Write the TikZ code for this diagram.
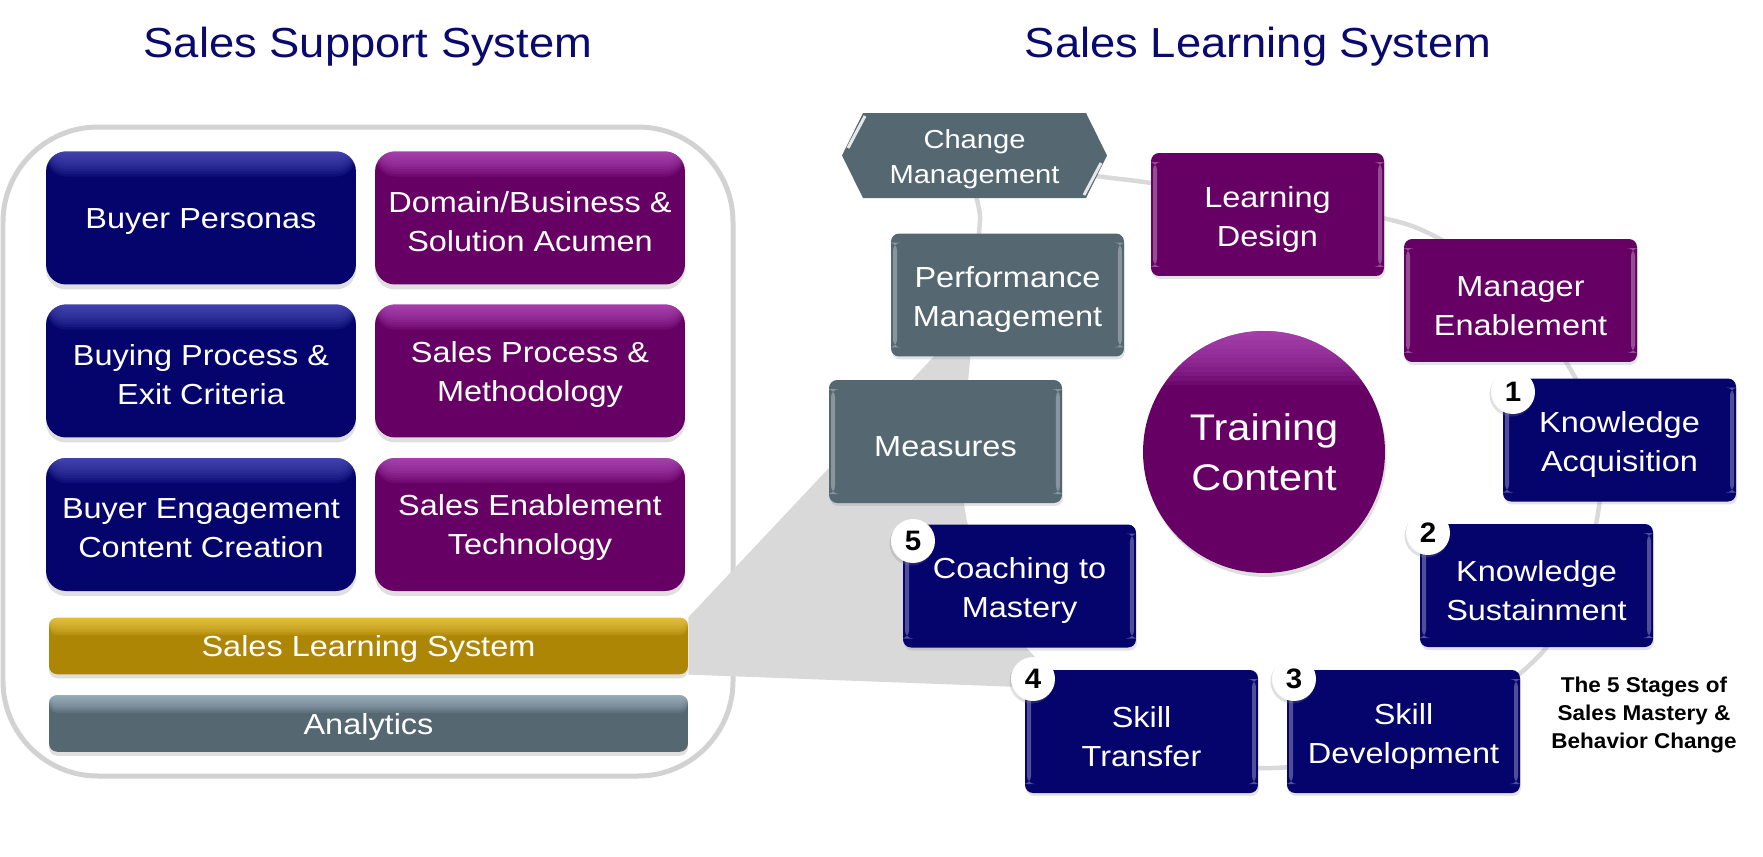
\documentclass[tikz,border=0pt]{standalone}
\usepackage{fontspec}
\setmainfont{Liberation Sans}
\newfontfamily\wfont[FakeStretch=1.12]{Liberation Sans}
\newfontfamily\tfont[FakeStretch=1.08]{Liberation Sans}
\newfontfamily\nfont[FakeStretch=1.05]{Liberation Sans}
\usetikzlibrary{shadows}

\definecolor{navyb}{RGB}{4,4,108}
\definecolor{navyt}{RGB}{90,90,200}
\definecolor{purp}{RGB}{102,0,100}
\definecolor{purpt}{RGB}{190,90,200}
\definecolor{slate}{RGB}{85,104,114}
\definecolor{slatet}{RGB}{175,195,210}
\definecolor{gold}{RGB}{174,134,6}
\definecolor{goldt}{RGB}{245,212,80}
\definecolor{ringgray}{RGB}{217,217,217}
\definecolor{framegray}{RGB}{210,210,210}
\definecolor{titleblue}{RGB}{10,10,110}

\newcommand\lstrut{\rule{0pt}{15.8pt}}
\newcommand\rstrut{\rule{0pt}{17.3pt}}
\newcommand\bstrut{\rule{0pt}{15.4pt}}
\newcommand\cstrut{\rule{0pt}{14.5pt}}

\pgfdeclareradialshading{numball}{\pgfpoint{5bp}{6bp}}{color(0bp)=(white); color(28bp)=(white); color(50bp)=(black!30); color(80bp)=(black!30)}

\tikzset{
  base/.style={align=center, text=white, inner sep=0pt, font=\wfont\fontsize{16.5}{22.2}\selectfont},
  topglow/.style 2 args={path picture={\foreach \gi in {1,...,10}{\fill[#1, opacity=0.12] (path picture bounding box.north west) rectangle ([yshift=-\gi*#2]path picture bounding box.north east);}}},
  lbox/.style={base, rounded corners=0.4cm, minimum width=6.2cm, minimum height=2.66cm,
    drop shadow={shadow xshift=0pt, shadow yshift=-0.1cm, opacity=0.25}},
  lnavy/.style={lbox, fill=navyb, topglow={navyt}{0.05cm}},
  lpurp/.style={lbox, fill=purp, topglow={purpt}{0.05cm}},
  barbox/.style={base, rounded corners=0.16cm, minimum width=12.78cm, minimum height=1.13cm,
    drop shadow={shadow xshift=0pt, shadow yshift=-0.08cm, opacity=0.25}},
  glints/.style={path picture={
    \fill[white, opacity=0.3] ([xshift=0.04cm,yshift=-0.18cm]path picture bounding box.north west) rectangle ([xshift=0.12cm,yshift=0.18cm]path picture bounding box.south west);
    \fill[white, opacity=0.3] ([xshift=-0.12cm,yshift=-0.18cm]path picture bounding box.north east) rectangle ([xshift=-0.04cm,yshift=0.18cm]path picture bounding box.south east);}},
  rbox/.style={base, rounded corners=0.16cm, minimum width=4.66cm, minimum height=2.46cm, glints,
    drop shadow={shadow xshift=0.02cm, shadow yshift=-0.06cm, opacity=0.22}},
  rnavy/.style={rbox, fill=navyb},
  rpurp/.style={rbox, fill=purp},
  rslate/.style={rbox, fill=slate},
  numc/.style={circle, minimum size=0.88cm, inner sep=0pt, shade, shading=numball,
    font=\nfont\bfseries\fontsize{16}{16}\selectfont, text=black,
    drop shadow={shadow xshift=-0.03cm, shadow yshift=-0.05cm, opacity=0.25}},
  title/.style={font=\tfont\fontsize{23.9}{28}\selectfont, text=titleblue, anchor=base, inner sep=0pt},
  ring/.style={ringgray, line width=0.09cm},
}

\begin{document}
\begin{tikzpicture}[x=0.02cm, y=-0.02cm]
\useasboundingbox[fill=white] (0,0) rectangle (1763,856);

% titles
\node[title] (t1) at (368,57) {Sales Support System};
\node[title] (t2) at (1258,57) {Sales Learning System};

% outer frame
\draw[framegray, line width=0.1cm, rounded corners=1.9cm] (3,127) rectangle (733,776);

% left boxes
\node[lnavy] (bp) at (201,218) {\lstrut Buyer Personas};
\node[lpurp] (dom) at (530,218) {\lstrut Domain/Business \&\\Solution Acumen};
\node[lnavy] (bpe) at (201,371) {\lstrut Buying Process \&\\Exit Criteria};
\node[lpurp] (sp) at (530,371) {\lstrut Sales Process \&\\Methodology};
\node[lnavy] (be) at (201,524.5) {\lstrut Buyer Engagement\\Content Creation};
\node[lpurp] (se) at (530,524.5) {\lstrut Sales Enablement\\Technology};
\node[barbox, fill=gold, topglow={goldt}{0.035cm}] (sls) at (368.5,646) {\bstrut Sales Learning System};
\node[barbox, fill=slate, topglow={slatet}{0.035cm}] (an) at (368.5,723.5) {\bstrut Analytics};

% callout wedge
\fill[ringgray] (sls.north east) -- (987,300) -- (1100,500) -- (1100,690) -- (sls.south east) -- cycle;

% ring
\coordinate (r1) at (983,168);
\coordinate (r2) at (1120,179);
\coordinate (r3) at (1266,200);
\coordinate (r4) at (1412,226);
\coordinate (r5) at (1512,290);
\coordinate (r6) at (1572,372);
\coordinate (r7) at (1601,445);
\coordinate (r8) at (1598,513);
\coordinate (r9) at (1578,590);
\coordinate (r10) at (1535,660);
\coordinate (r11) at (1420,742);
\coordinate (r12) at (1272,768);
\coordinate (r13) at (1150,748);
\coordinate (r14) at (1035,660);
\coordinate (r15) at (986,590);
\coordinate (r16) at (963,512);
\coordinate (r17) at (961,441);
\coordinate (r18) at (967,368);
\coordinate (r19) at (974,295);
\coordinate (r20) at (980,220);
\fill[white] plot[smooth cycle, tension=0.5] coordinates {(r1) (r2) (r3) (r4) (r5) (r6) (r7) (r8) (r9) (r10) (r11) (r12) (r13) (r14) (r15) (r16) (r17) (r18) (r19) (r20)};
\draw[ring] plot[smooth cycle, tension=0.5] coordinates {(r1) (r2) (r3) (r4) (r5) (r6) (r7) (r8) (r9) (r10) (r11) (r12) (r13) (r14) (r15) (r16) (r17) (r18) (r19) (r20)};

% change management hexagon
\fill[slate] (842,155.5) -- (863,113) -- (1086,113) -- (1107,155.5) -- (1086,198) -- (863,198) -- cycle;
\draw[white, line width=0.06cm, opacity=0.85] (848,148) -- (865,116);
\draw[white, line width=0.06cm, opacity=0.85] (1101,163) -- (1084,195);
\node[base, font=\wfont\fontsize{14.8}{19.9}\selectfont] (cm) at (974.5,155.5) {\cstrut Change\\Management};

% right boxes
\node[rpurp] (ld) at (1267.5,214.5) {\rstrut Learning\\Design};
\node[rpurp] (me) at (1520.5,300.5) {\rstrut Manager\\Enablement};
\node[rslate] (pm) at (1007.5,295) {\rstrut Performance\\Management};
\node[rslate] (meas) at (945.5,441.5) {\rstrut Measures};
\node[rnavy] (ka) at (1619.5,440) {\rstrut Knowledge\\Acquisition};
\node[rnavy] (ks) at (1536.5,585.5) {\rstrut Knowledge\\Sustainment};
\node[rnavy] (sd) at (1403.5,731.5) {\rstrut Skill\\Development};
\node[rnavy] (st) at (1141.5,731.5) {\rstrut Skill\\Transfer};
\node[rnavy] (co) at (1019.5,586) {\rstrut Coaching to\\Mastery};

% training content
\node[base, circle, minimum size=4.84cm, fill=purp, font=\wfont\fontsize{21.1}{28.5}\selectfont,
  path picture={\foreach \gi in {1,...,12}{\fill[purpt, opacity=0.1] (path picture bounding box.north west) rectangle ([yshift=-\gi*0.09cm]path picture bounding box.north east);}},
  drop shadow={shadow xshift=0.03cm, shadow yshift=-0.08cm, opacity=0.25}] (tc) at (1264,452) {Training\\Content};

% stage numbers
\node[numc] (n1) at (1513,392) {1};
\node[numc] (n2) at (1428,533) {2};
\node[numc] (n3) at (1294,679) {3};
\node[numc] (n4) at (1033,679) {4};
\node[numc] (n5) at (913,541) {5};

% note
\node[font=\nfont\bfseries\fontsize{12.2}{15.9}\selectfont, align=center, inner sep=0pt] (note) at (1644,715) {The 5 Stages of\\Sales Mastery \&\\Behavior Change};
\end{tikzpicture}
\end{document}
